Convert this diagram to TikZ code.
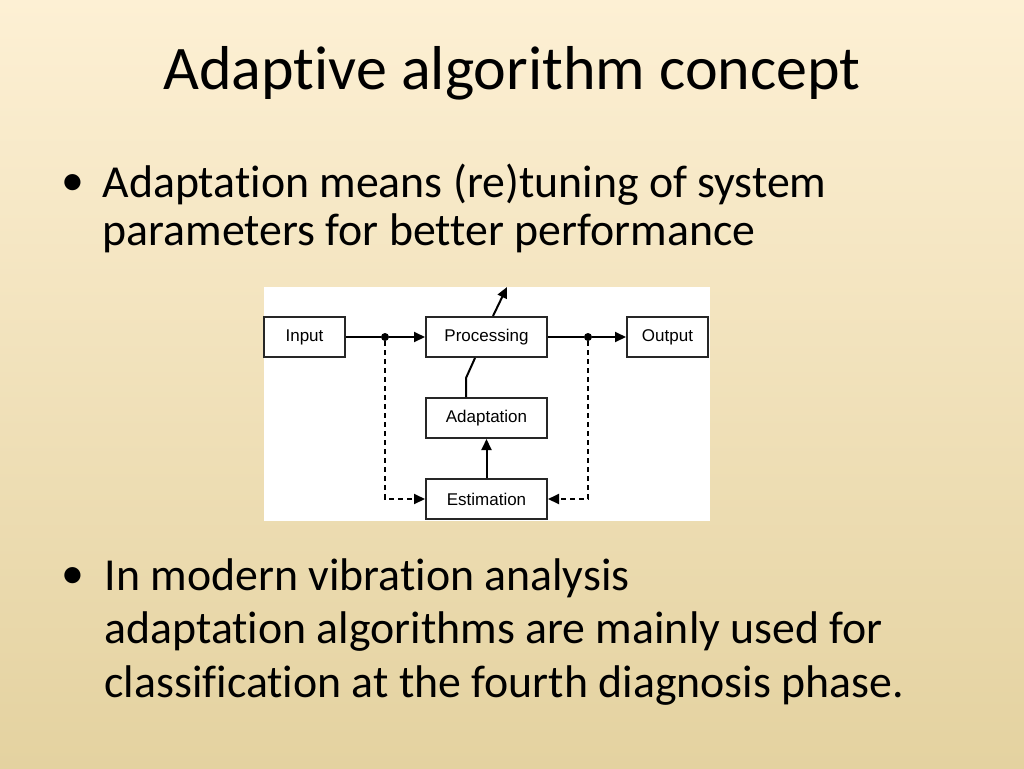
\documentclass[tikz,border=0pt]{standalone}
\usepackage{fontspec}
\setmainfont{Carlito}[RawFeature=-liga]
\newfontfamily\diag{Liberation Sans}
\usetikzlibrary{arrows.meta}
\definecolor{bgtop}{RGB}{253,240,212}
\definecolor{bgbot}{RGB}{228,210,160}
\begin{document}
\begin{tikzpicture}[x=1pt,y=-1pt,
  box/.style={draw=black!85,line width=2pt,fill=white,minimum width=121pt,minimum height=40pt,inner sep=0pt,font=\diag\fontsize{17}{19}\selectfont},
  sbox/.style={box,minimum width=81pt},
  ln/.style={line width=2pt},
  arr/.style={ln,-{Triangle[length=11pt,width=10pt]}},
  darr/.style={arr,dash pattern=on 5pt off 4pt},
  dot/.style={circle,fill=black,inner sep=0pt,minimum size=8pt},
  txt/.style={anchor=west,font=\fontsize{45.8}{50}\selectfont}]
\shade[top color=bgtop,bottom color=bgbot] (0,0) rectangle (1024,768);
\useasboundingbox (0,0) rectangle (1024,768);
\node[font=\fontsize{62}{70}\selectfont] (title) at (512,73) {Adaptive algorithm concept};
\node[txt] (b1) at (58,185) {•};
\node[txt] (l1) at (99,185) {Adaptation means (re)tuning of system};
\node[txt] (l2) at (99,233) {parameters for better performance};
\node[txt] (b2) at (58,578) {•};
\node[txt] (l3) at (101,578) {In modern vibration analysis};
\node[txt] (l4) at (101,632) {adaptation algorithms are mainly used for};
\node[txt] (l5) at (101,686) {classification at the fourth diagnosis phase.};
\fill[white] (264,287) rectangle (710,521);
\node[sbox] (in) at (304.5,337) {Input};
\node[box] (pr) at (486.5,337) {Processing};
\node[sbox] (out) at (667.5,337) {Output};
\node[box] (ad) at (486.5,418) {Adaptation};
\node[box] (es) at (486.5,499) {Estimation};
\node[dot] (j1) at (385,337) {};
\node[dot] (j2) at (588,337) {};
\coordinate (top) at (507,287);
\coordinate (bend) at (466,378);
\draw[ln] (in) -- (j1);
\draw[arr] (j1) -- (pr);
\draw[ln] (pr) -- (j2);
\draw[arr] (j2) -- (out);
\draw[arr] (es) -- (ad);
\draw[ln] (ad.north -| bend) -- (bend) -- (pr.south -| 475,0);
\draw[arr] (pr.north -| 493,0) -- (top);
\draw[darr] (j1) |- (es.west);
\draw[darr] (j2) |- (es.east);
\end{tikzpicture}
\end{document}
